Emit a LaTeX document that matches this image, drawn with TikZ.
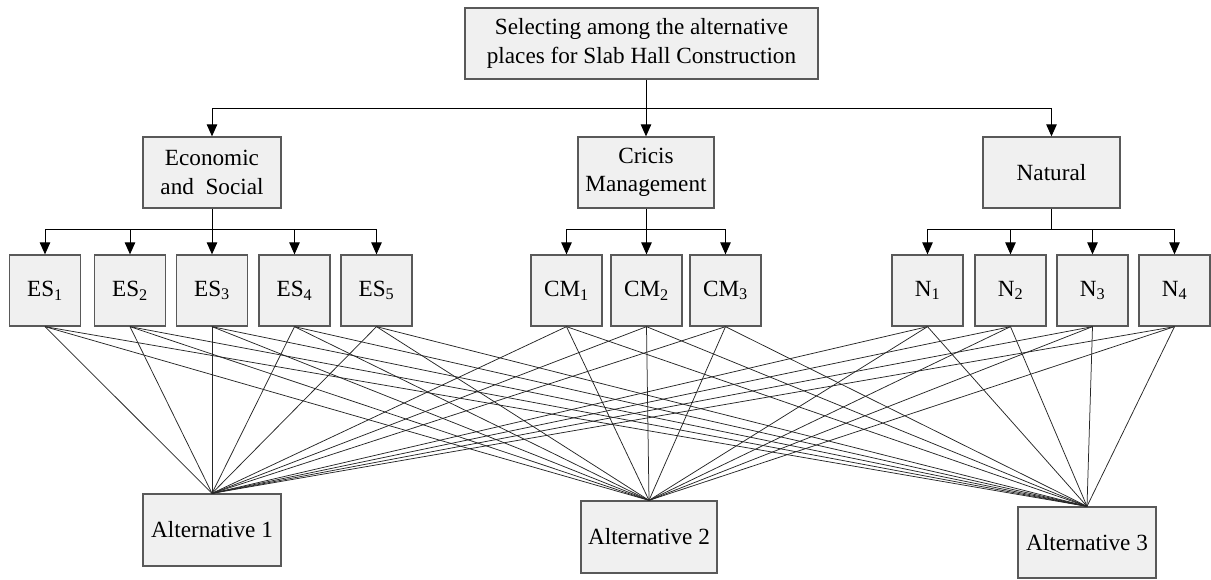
\documentclass[tikz,border=0pt]{standalone}
\usepackage{fontspec}
\setmainfont{Liberation Serif}
\usetikzlibrary{arrows.meta}
\begin{document}
\begin{tikzpicture}[x=1pt,y=-1pt,
  box/.style={draw=black!65,fill=black!6,line width=1.3pt,rectangle,inner sep=0pt,
    align=center,font=\fontsize{23.2}{28.5}\selectfont},
  sbox/.style={box,minimum width=71pt,minimum height=71pt},
  arr/.style={line width=1pt,-{Triangle[length=12pt,width=10.5pt]}},
  con/.style={line width=0.75pt,black!85},
  bus/.style={line width=1pt}]
\useasboundingbox (0,0) rectangle (1211,579);
% top
\node[box,minimum width=353pt,minimum height=71pt] (top) at (641.5,43.5) {Selecting among the alternative\\places for Slab Hall Construction};
% criteria
\node[box,minimum width=138pt,minimum height=71pt] (econ) at (212,172.5) {Economic\\and\ \ Social};
\node[box,minimum width=136pt,minimum height=71pt] (cm) at (646,172.5) {Cricis\\Management};
\node[box,minimum width=137pt,minimum height=71pt] (nat) at (1051.5,172.5) {Natural};
% sub-criteria
\node[sbox] (es1) at (45,290.5) {ES\textsubscript{1}};
\node[sbox] (es2) at (130,290.5) {ES\textsubscript{2}};
\node[sbox] (es3) at (212,290.5) {ES\textsubscript{3}};
\node[sbox] (es4) at (294.5,290.5) {ES\textsubscript{4}};
\node[sbox] (es5) at (376.5,290.5) {ES\textsubscript{5}};
\node[sbox] (cm1) at (566.5,290.5) {CM\textsubscript{1}};
\node[sbox] (cm2) at (646.5,290.5) {CM\textsubscript{2}};
\node[sbox] (cm3) at (725.5,290.5) {CM\textsubscript{3}};
\node[sbox] (n1) at (927.5,290.5) {N\textsubscript{1}};
\node[sbox] (n2) at (1010.5,290.5) {N\textsubscript{2}};
\node[sbox] (n3) at (1092.5,290.5) {N\textsubscript{3}};
\node[sbox] (n4) at (1174.5,290.5) {N\textsubscript{4}};
% alternatives
\node[box,minimum width=138pt,minimum height=72pt] (a1) at (212,530) {Alternative 1};
\node[box,minimum width=136pt,minimum height=72pt] (a2) at (649,537) {Alternative 2};
\node[box,minimum width=138pt,minimum height=71pt] (a3) at (1087,542.5) {Alternative 3};
% top-level tree
\coordinate (busA) at (0,108);
\draw[bus] (cm.north |- top.south) -- (cm.north |- busA);
\draw[bus] (econ.north |- busA) -- (nat.north |- busA);
\foreach \c in {econ,cm,nat}{
  \draw[arr] (\c.north |- busA) -- (\c.north);
}
% second-level trees
\coordinate (busB) at (0,229);
\foreach \p/\first/\last/\list in {econ/es1/es5/{es1,es2,es3,es4,es5},cm/cm1/cm3/{cm1,cm2,cm3},nat/n1/n4/{n1,n2,n3,n4}}{
  \draw[bus] (\p.south) -- (\p.south |- busB);
  \draw[bus] (\first.north |- busB) -- (\last.north |- busB);
  \foreach \s in \list {
    \draw[arr] (\s.north |- busB) -- (\s.north);
  }
}
% connections to alternatives
\foreach \s in {es1,es2,es3,es4,es5,cm1,cm2,cm3,n1,n2,n3,n4}{
  \foreach \a in {a1,a2,a3}{
    \draw[con] (\s.south) -- (\a.north);
  }
}
\end{tikzpicture}
\end{document}
